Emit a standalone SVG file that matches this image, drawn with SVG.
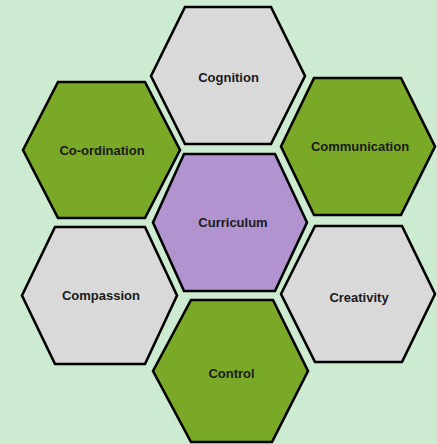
<svg xmlns="http://www.w3.org/2000/svg" width="437" height="444" viewBox="0 0 437 444">
<style>
.hex{stroke:#000;stroke-width:2.6;stroke-linejoin:miter}
.gray{fill:#d9d9d9}
.green{fill:#7aa928}
.purple{fill:#b194cf}
.lbl{font-family:"Liberation Sans",Arial,sans-serif;font-weight:bold;font-size:13px;fill:#1a1a1a;text-anchor:middle}
</style>
<rect width="437" height="444" fill="#cdebd0"/>
<g id="connectors"></g>
<g id="cognition">
<polygon class="hex gray" points="151,76 185,7 271,7 305,76 271,144 185,144"/>
<text class="lbl" x="228.5" y="82">Cognition</text>
</g>
<g id="coordination">
<polygon class="hex green" points="23,150 58,82 145,82 180,150 145,218 58,218"/>
<text class="lbl" x="102" y="154.5">Co-ordination</text>
</g>
<g id="communication">
<polygon class="hex green" points="281,146.5 314,78 401,78 435,146.5 401,215 314,215"/>
<text class="lbl" x="360" y="151">Communication</text>
</g>
<g id="curriculum">
<polygon class="hex purple" points="153,222.5 184,154 275,154 307,222.5 275,291 184,291"/>
<text class="lbl" x="233" y="226.5">Curriculum</text>
</g>
<g id="compassion">
<polygon class="hex gray" points="22,295.5 55,227 145,227 177,295.5 145,364 55,364"/>
<text class="lbl" x="101" y="299.5">Compassion</text>
</g>
<g id="creativity">
<polygon class="hex gray" points="281,294 315,226 402,226 435,294 402,362 315,362"/>
<text class="lbl" x="359" y="302">Creativity</text>
</g>
<g id="control">
<polygon class="hex green" points="153,371 191,300 273,300 308,371 272,442 191,442"/>
<text class="lbl" x="231.5" y="377.5">Control</text>
</g>
</svg>
